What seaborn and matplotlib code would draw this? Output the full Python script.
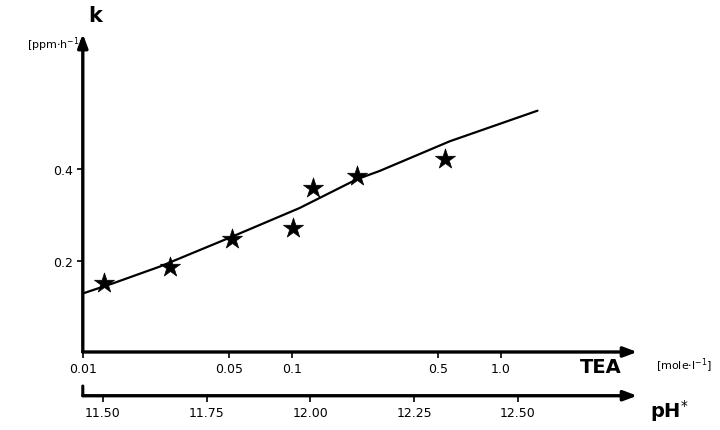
import matplotlib
matplotlib.use("Agg")
import matplotlib.pyplot as plt
import numpy as np
import pandas as pd
import seaborn as sns

# measured points (TEA concentration vs rate constant k)
tea_pts = [0.0126, 0.0261, 0.0516, 0.101, 0.126, 0.205, 0.54]
k_pts = [0.150, 0.187, 0.248, 0.272, 0.359, 0.385, 0.422]

# hand drawn fit line
tea_line = [0.0100, 0.0139, 0.0234, 0.0516, 0.109, 0.205, 0.263, 0.570, 1.50]
k_line = [0.128, 0.150, 0.187, 0.252, 0.315, 0.378, 0.396, 0.461, 0.528]

tea_ticks = [0.01, 0.05, 0.1, 0.5, 1.0]
tea_labels = ["0.01", "0.05", "0.1", "0.5", "1.0"]
k_ticks = [0.2, 0.4]
k_labels = ["0.2", "0.4"]
ph_ticks = [11.50, 11.75, 12.00, 12.25, 12.50]
ph_labels = ["11.50", "11.75", "12.00", "12.25", "12.50"]

pts = pd.DataFrame({"TEA": tea_pts, "k": k_pts})
fit = pd.DataFrame({"TEA": tea_line, "k": k_line})

sns.set_style("white")
plt.rcParams['font.family'] = ['DejaVu Sans']
plt.rcParams.update({"text.color": "black", "xtick.color": "black",
                     "ytick.color": "black", "axes.labelcolor": "black"})

fig = plt.figure(figsize=(7.2, 4.31), dpi=100)
ax = fig.add_axes([0.115, 0.181, 0.77, 0.738])

sns.lineplot(data=fit, x="TEA", y="k", sort=False, color="black", lw=1.6, ax=ax)
sns.scatterplot(data=pts, x="TEA", y="k", marker="*", s=230, color="black",
                edgecolor="black", linewidth=0.5, ax=ax, zorder=3)

ax.set_xscale("log")
ax.set_xlim(0.01, 4.5)
ax.set_ylim(0.0, 0.696)
ax.set_xticks(tea_ticks)
ax.set_xticklabels(tea_labels)
ax.minorticks_off()
ax.set_yticks(k_ticks)
ax.set_yticklabels(k_labels)
ax.set_xlabel("")
ax.set_ylabel("")
for s in ax.spines.values():
    s.set_visible(False)
ax.tick_params(axis="both", direction="out", length=4, width=1.2, labelsize=9, pad=3,
               bottom=True, left=True)

# arrow axes
arrow = dict(arrowstyle="-|>,head_length=0.8,head_width=0.3", lw=2.4, color="black",
             shrinkA=0, shrinkB=0)
ax.annotate("", xy=(0, 1.0), xytext=(0, 0), xycoords="axes fraction", arrowprops=arrow)
ax.annotate("", xy=(1.0, 0), xytext=(0, 0), xycoords="axes fraction", arrowprops=arrow)

# second axis: pH*
ax2 = fig.add_axes([0.115, 0.079, 0.77, 0.001])
ax2.set_xlim(11.452, 12.787)
ax2.set_xticks(ph_ticks)
ax2.set_xticklabels(ph_labels)
ax2.set_yticks([])
for s in ax2.spines.values():
    s.set_visible(False)
ax2.tick_params(axis="x", direction="out", length=4, width=1.2, labelsize=9, pad=3,
                bottom=True)
ax2.annotate("", xy=(1.0, 0.5), xytext=(0, 0.5), xycoords="axes fraction", arrowprops=arrow)
ax2.annotate("", xy=(0, 0.5), xytext=(0, 7), xycoords="axes fraction",
             textcoords="offset points",
             arrowprops=dict(arrowstyle="-", lw=2.2, color="black", shrinkA=0, shrinkB=0))

# axis titles
fig.text(0.132, 0.963, "k", fontsize=15, fontweight="bold", ha="center", va="center")
fig.text(0.077, 0.896, r"[ppm$\cdot$h$^{-1}$]", fontsize=8, ha="center", va="center")
fig.text(0.835, 0.148, "TEA", fontsize=14, fontweight="bold", ha="center", va="center")
fig.text(0.95, 0.151, r"[mole$\cdot$l$^{-1}$]", fontsize=8, ha="center", va="center")
fig.text(0.93, 0.047, r"pH$^{*}$", fontsize=14, fontweight="bold", ha="center", va="center")

fig.savefig("out.png", dpi=100)
